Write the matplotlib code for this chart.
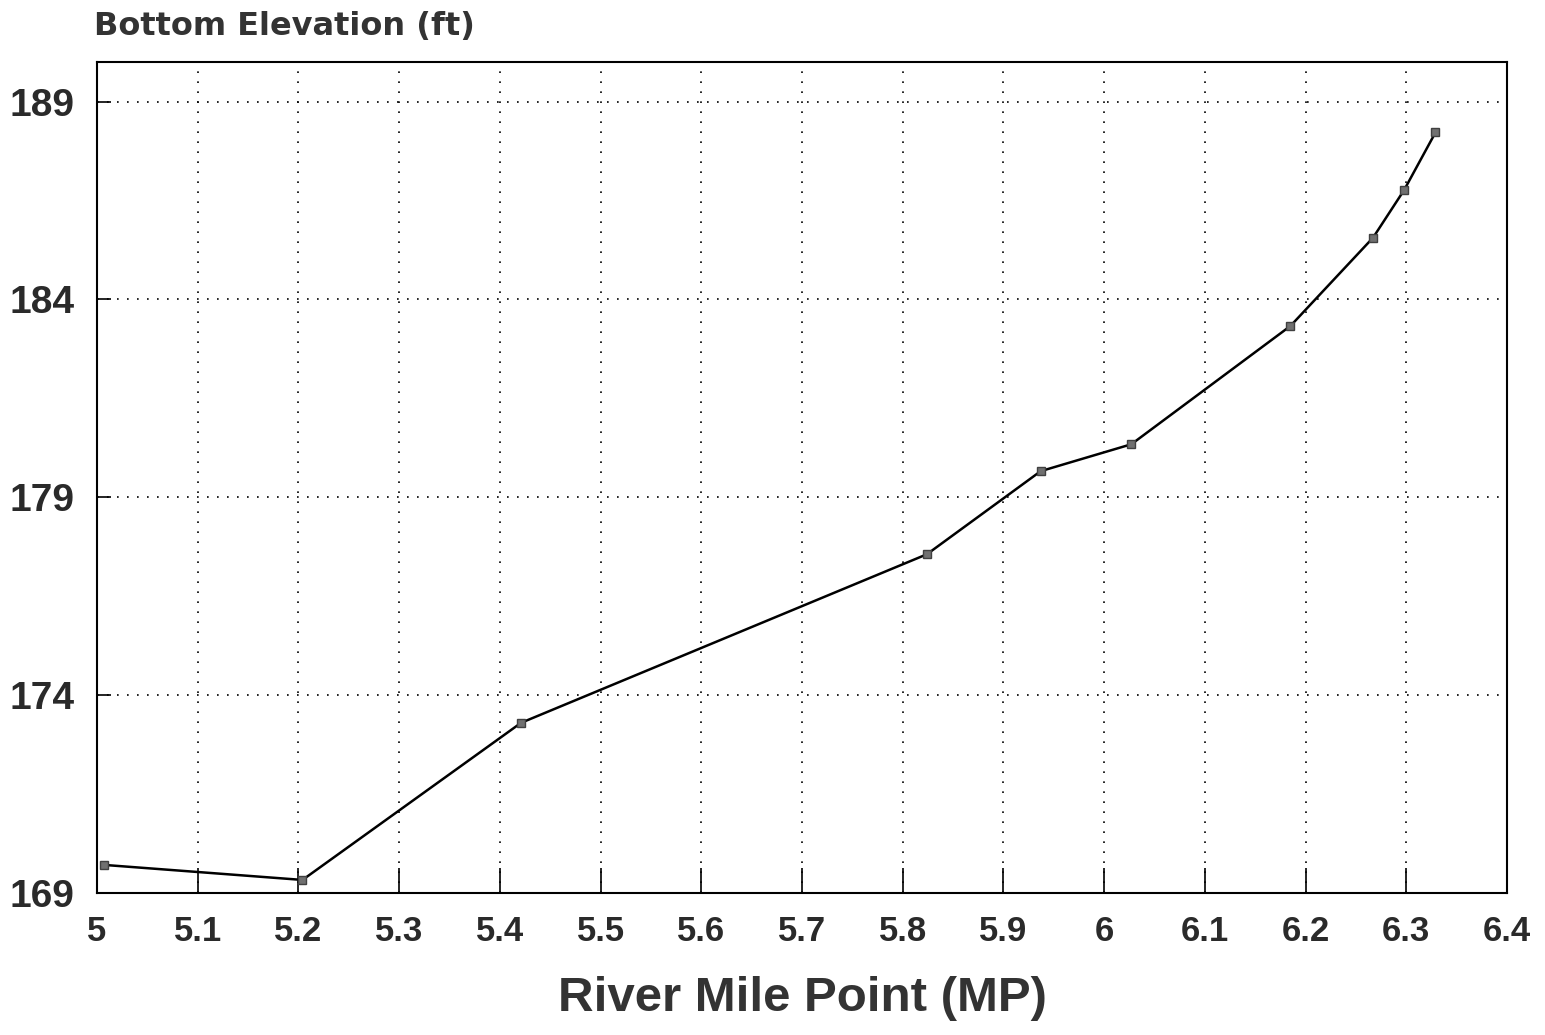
import matplotlib
matplotlib.use('Agg')
import matplotlib.pyplot as plt

# river mile point vs bottom elevation
mp = [5.007, 5.204, 5.421, 5.824, 5.937, 6.027, 6.185, 6.267, 6.298, 6.329]
elev = [169.71, 169.33, 173.30, 177.56, 179.66, 180.34, 183.33, 185.56, 186.77, 188.22]

xticks = [5, 5.1, 5.2, 5.3, 5.4, 5.5, 5.6, 5.7, 5.8, 5.9, 6, 6.1, 6.2, 6.3, 6.4]
xlabels = ['5', '5.1', '5.2', '5.3', '5.4', '5.5', '5.6', '5.7', '5.8', '5.9', '6', '6.1', '6.2', '6.3', '6.4']
yticks = [169, 174, 179, 184, 189]

plt.rcParams['font.family'] = ['Liberation Sans', 'DejaVu Sans']

fig = plt.figure(figsize=(15.45, 10.35), dpi=100)
ax = fig.add_axes([0.0628, 0.1372, 0.9126, 0.8029])

ax.plot(mp, elev, color='black', lw=1.8, marker='s', ms=6,
        markerfacecolor='#707070', markeredgecolor='#404040')

ax.set_xlim(5, 6.4)
ax.set_ylim(169, 190)
ax.set_xticks(xticks)
ax.set_xticklabels(xlabels)
ax.set_yticks(yticks)
ax.grid(True, linestyle=(0, (1, 5)), color='black', lw=1.2)
ax.tick_params(axis='x', direction='in', length=18, width=1.2, labelsize=25, pad=16)
ax.tick_params(axis='y', direction='in', length=10, width=1.2, labelsize=28, pad=16)
for lab in ax.get_xticklabels() + ax.get_yticklabels():
    lab.set_fontweight('bold')
    lab.set_color('#2a2a2a')
for s in ax.spines.values():
    s.set_linewidth(1.5)

ax.set_xlabel('River Mile Point (MP)', fontsize=35.5, fontweight='bold', color='#333333', labelpad=20)
fig.text(0.061, 0.974, 'Bottom Elevation (ft)', fontsize=23, fontweight='bold',
         family='DejaVu Sans', color='#333333', ha='left', va='center')

fig.savefig('out.png', dpi=100)
